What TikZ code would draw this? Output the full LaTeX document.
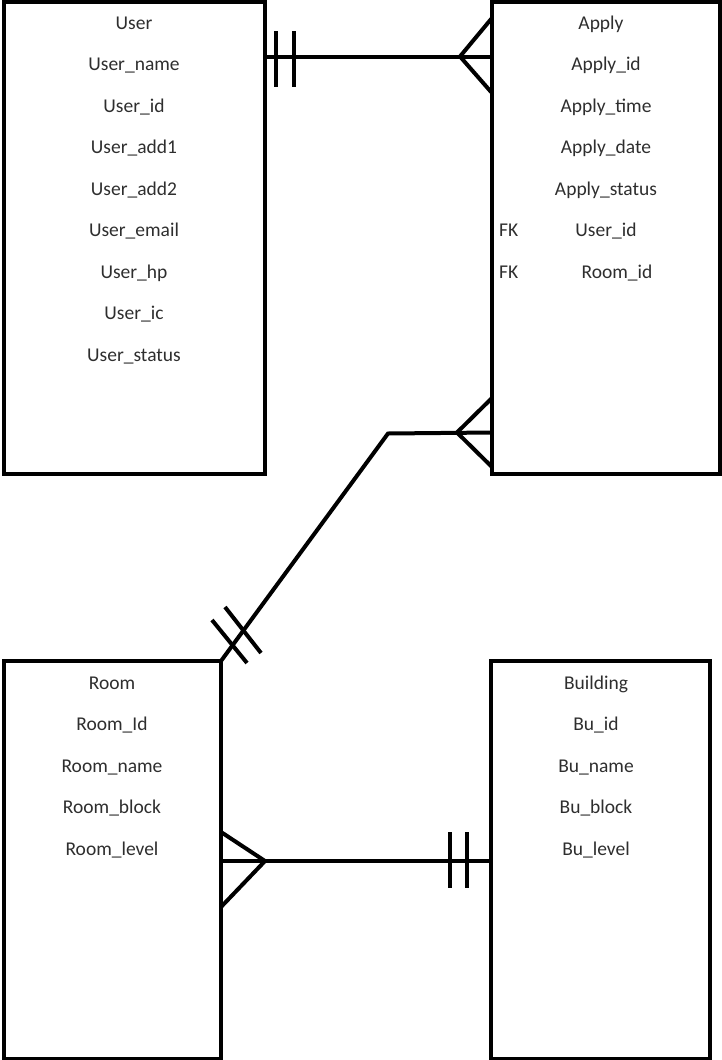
\documentclass[tikz,border=0pt]{standalone}
\usepackage{fontspec}
\setmainfont{Carlito}
\begin{document}
\begin{tikzpicture}[x=1pt,y=-1pt,
  box/.style={draw=black, line width=4pt, inner sep=0pt, outer sep=0pt, rectangle},
  lbl/.style={anchor=base, inner sep=0pt, text=black!82, font=\fontsize{19.5}{22}\selectfont},
  fk/.style={lbl, anchor=base west},
  conn/.style={line width=4pt, draw=black}]
\useasboundingbox (0,0) rectangle (722,1060);
% entity boxes
\node[box, minimum width=261.5pt, minimum height=472.5pt] (user) at (134.25,237.75) {};
\node[box, minimum width=228pt, minimum height=472.5pt] (apply) at (606,237.75) {};
\node[box, minimum width=217.5pt, minimum height=398pt] (room) at (112.25,860) {};
\node[box, minimum width=219pt, minimum height=398pt] (building) at (600.5,860) {};
% User attributes
\node[lbl] (u0) at (134,29) {User};
\node[lbl] (u1) at (134,70.5) {User\_name};
\node[lbl] (u2) at (134,112) {User\_id};
\node[lbl] (u3) at (134,153.5) {User\_add1};
\node[lbl] (u4) at (134,195) {User\_add2};
\node[lbl] (u5) at (134,236.5) {User\_email};
\node[lbl] (u6) at (134,278) {User\_hp};
\node[lbl] (u7) at (134,319.5) {User\_ic};
\node[lbl] (u8) at (134,361) {User\_status};
% Apply attributes
\node[lbl] (a0) at (601,29) {Apply};
\node[lbl] (a1) at (606,70.5) {Apply\_id};
\node[lbl] (a2) at (606,112) {Apply\_time};
\node[lbl] (a3) at (606,153.5) {Apply\_date};
\node[lbl] (a4) at (606,195) {Apply\_status};
\node[fk] (fk1) at (499,236.5) {FK};
\node[lbl] (a5) at (606,236.5) {User\_id};
\node[fk] (fk2) at (499,278) {FK};
\node[lbl] (a6) at (617,278) {Room\_id};
% Room attributes
\node[lbl] (r0) at (112,689) {Room};
\node[lbl] (r1) at (112,730.5) {Room\_Id};
\node[lbl] (r2) at (112,772) {Room\_name};
\node[lbl] (r3) at (112,813.5) {Room\_block};
\node[lbl] (r4) at (112,855) {Room\_level};
% Building attributes
\node[lbl] (b0) at (596,689) {Building};
\node[lbl] (b1) at (596,730.5) {Bu\_id};
\node[lbl] (b2) at (596,772) {Bu\_name};
\node[lbl] (b3) at (596,813.5) {Bu\_block};
\node[lbl] (b4) at (596,855) {Bu\_level};
% helper coordinates
\coordinate (y1) at (0,56.5);
\coordinate (y1a) at (0,18);
\coordinate (y1b) at (0,93);
\coordinate (y2) at (0,432.5);
\coordinate (y2a) at (0,398);
\coordinate (y2b) at (0,467);
\coordinate (y3) at (0,861);
\coordinate (y3a) at (0,832);
\coordinate (y3b) at (0,907);
\coordinate (bend) at (388,433.5);
% User -- Apply
\draw[conn] (user.east |- y1) -- (apply.west |- y1);
\draw[conn] (276,31) -- (276,87);
\draw[conn] (294,31) -- (294,87);
\draw[conn] (apply.west |- y1a) -- (460,56.5) -- (apply.west |- y1b);
% Apply -- Room
\draw[conn] (apply.west |- y2) -- (bend) -- (room.north east);
\draw[conn] (457,432.5) -- (apply.west |- y2a);
\draw[conn] (457,432.5) -- (apply.west |- y2b);
\draw[conn] (212,620) -- (247,663);
\draw[conn] (225,607) -- (261,653);
% Room -- Building
\draw[conn] (room.east |- y3) -- (building.west |- y3);
\draw[conn] (room.east |- y3a) -- (265,861) -- (room.east |- y3b);
\draw[conn] (450,832) -- (450,888);
\draw[conn] (467,832) -- (467,888);
\end{tikzpicture}
\end{document}
